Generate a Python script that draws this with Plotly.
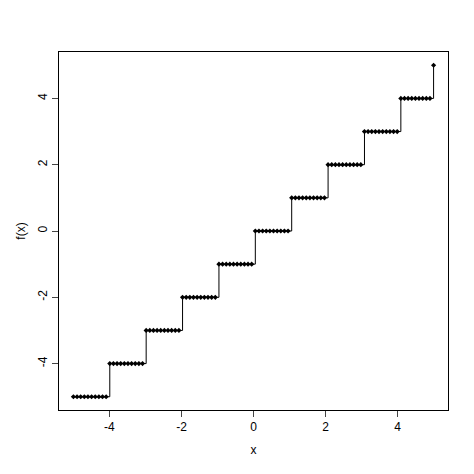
import numpy as np
import plotly.graph_objs as go

# f(x) = floor(x) sampled on 100 points in [-5, 5]
x = np.linspace(-5, 5, 100)
fx = np.floor(x)
tick_vals = [-4, -2, 0, 2, 4]
tick_text = ["-4", "-2", "0", "2", "4"]

fig = go.Figure()
fig.add_trace(
    go.Scatter(
        x=x,
        y=fx,
        mode="lines+markers",
        line={"color": "black", "width": 1, "shape": "hv"},
        marker={"color": "black", "size": 4, "symbol": "diamond"},
    )
)

axis_common = dict(
    showgrid=False,
    zeroline=False,
    showline=True,
    linecolor="black",
    linewidth=1,
    mirror=True,
    ticks="outside",
    ticklen=6,
    tickvals=tick_vals,
    ticktext=tick_text,
    tickfont={"size": 12, "color": "black"},
    range=[-5.4, 5.4],
)

fig.update_layout(
    width=474,
    height=474,
    margin={"l": 42, "r": 34, "t": 44, "b": 72},
    plot_bgcolor="white",
    paper_bgcolor="white",
    showlegend=False,
    font={"family": "Liberation Sans, Arial", "color": "black"},
    xaxis=dict(axis_common, title={"text": "x", "standoff": 12, "font": {"size": 12}}),
    yaxis=dict(axis_common, tickangle=-90,
               title={"text": "f(x)", "standoff": 8, "font": {"size": 12}}),
)

fig.write_html("out.html")
